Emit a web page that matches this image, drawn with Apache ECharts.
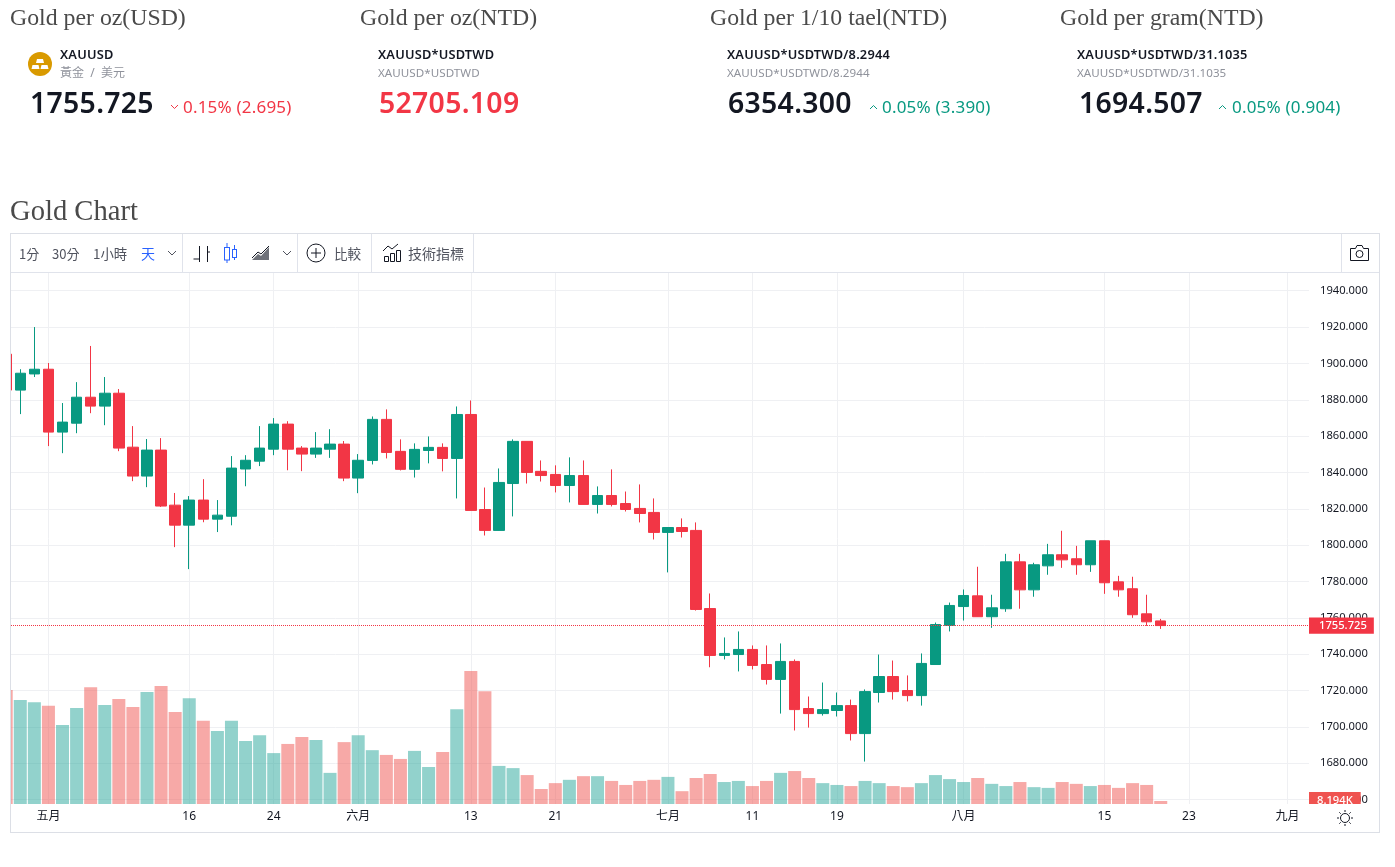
<!DOCTYPE html>
<html><head><meta charset="utf-8">
<script src="https://cdn.jsdelivr.net/npm/echarts@6/dist/echarts.min.js"></script>
<style>
html,body{margin:0;padding:0;background:#fff;overflow:hidden}
#chart{position:absolute;left:0;top:0;width:1395px;height:867px}
.t{position:absolute;white-space:nowrap;line-height:1}
.h{font-family:"Liberation Serif",serif;color:#4a4a4a;font-size:23.8px}
.sym{font-family:"Noto Sans","Noto Sans CJK TC",sans-serif;font-weight:600;font-size:12.8px;letter-spacing:.2px;color:#131722}
.sub{font-family:"Noto Sans","Noto Sans CJK TC",sans-serif;font-size:11.6px;letter-spacing:.05px;color:#8f929b}
.price{font-family:"Noto Sans",sans-serif;font-weight:600;font-size:28.4px;letter-spacing:.3px;color:#131722}
.chg{font-family:"Noto Sans",sans-serif;font-size:17px;letter-spacing:.2px}
.tb{font-family:"Noto Sans CJK TC","Noto Sans",sans-serif;font-size:13px;color:#50535e}
.frame{position:absolute;border:1px solid #dcdfe6;box-sizing:border-box;pointer-events:none}
.sep{position:absolute;top:234px;width:1px;height:38px;background:#e0e3eb}
svg{position:absolute;overflow:visible}
</style></head><body>
<div id="chart"></div>

<div class="t h" style="left:10px;top:6px">Gold per oz(USD)</div>
<div class="t h" style="left:360px;top:6px">Gold per oz(NTD)</div>
<div class="t h" style="left:710px;top:6px">Gold per 1/10 tael(NTD)</div>
<div class="t h" style="left:1060px;top:6px">Gold per gram(NTD)</div>
<div class="t h" style="left:10px;top:197px;font-size:28.6px">Gold Chart</div>

<svg style="left:28px;top:52px" width="24" height="24" viewBox="0 0 24 24"><circle cx="12" cy="12" r="12" fill="#d99a00"/><path d="M9 7h6l1 4H8zM4.5 13h6l1 4h-8zM13.5 13h6l1 4h-8z" fill="#fff"/></svg>
<div class="t sym" style="left:60px;top:48px">XAUUSD</div>
<div class="t sub" style="left:60px;top:67px;word-spacing:3px;font-size:12px">黃金 / 美元</div>
<div class="t price" style="left:30px;top:88px">1755.725</div>
<svg style="left:170px;top:104px" width="9" height="6"><path d="M1 1l3.5 3.5L8 1" fill="none" stroke="#f23645"/></svg>
<div class="t chg" style="left:183px;top:98px;color:#f23645">0.15% (2.695)</div>

<div class="t sym" style="left:378px;top:48px">XAUUSD*USDTWD</div>
<div class="t sub" style="left:378px;top:67px">XAUUSD*USDTWD</div>
<div class="t price" style="left:379px;top:88px;color:#f23645">52705.109</div>

<div class="t sym" style="left:727px;top:48px">XAUUSD*USDTWD/8.2944</div>
<div class="t sub" style="left:727px;top:67px">XAUUSD*USDTWD/8.2944</div>
<div class="t price" style="left:728px;top:88px">6354.300</div>
<svg style="left:869px;top:104px" width="9" height="6"><path d="M1 5l3.5-3.5L8 5" fill="none" stroke="#089981"/></svg>
<div class="t chg" style="left:882px;top:98px;color:#089981">0.05% (3.390)</div>

<div class="t sym" style="left:1077px;top:48px">XAUUSD*USDTWD/31.1035</div>
<div class="t sub" style="left:1077px;top:67px">XAUUSD*USDTWD/31.1035</div>
<div class="t price" style="left:1079px;top:88px">1694.507</div>
<svg style="left:1218px;top:104px" width="9" height="6"><path d="M1 5l3.5-3.5L8 5" fill="none" stroke="#089981"/></svg>
<div class="t chg" style="left:1232px;top:98px;color:#089981">0.05% (0.904)</div>

<div class="frame" style="left:10px;top:233px;width:1370px;height:600px"></div>
<div style="position:absolute;left:11px;top:272px;width:1368px;height:1px;background:#e0e3eb"></div>
<div class="sep" style="left:182px"></div><div class="sep" style="left:297px"></div>
<div class="sep" style="left:371px"></div><div class="sep" style="left:473px"></div><div class="sep" style="left:1341px"></div>
<div class="t tb" style="left:19px;top:247px">1分</div>
<div class="t tb" style="left:52px;top:247px">30分</div>
<div class="t tb" style="left:93px;top:247px;font-size:13.4px">1小時</div>
<div class="t tb" style="left:141px;top:246px;color:#2962ff;font-size:14px">天</div>
<svg style="left:167px;top:250px" width="10" height="6"><path d="M1 1l4 4 4-4" fill="none" stroke="#50535e"/></svg>
<svg style="left:193px;top:245px" width="18" height="18"><path d="M6.5 1v16M0.5 14h6M14.5 1v16M14.5 7h2.5" fill="none" stroke="#131722"/></svg>
<svg style="left:223px;top:243px" width="16" height="20"><g fill="none" stroke="#2962ff"><path d="M4 0v20M11.5 2v15"/><rect x="1.5" y="4.5" width="5" height="12.5" fill="#fff"/><rect x="9.5" y="6.5" width="4" height="8" fill="#fff"/></g></svg>
<svg style="left:251px;top:245px" width="20" height="16"><path d="M1 15L7 9l3 2 8-9v13z" fill="#6f727a"/><path d="M1 13L7 7l3 2 8-8" fill="none" stroke="#131722"/></svg>
<svg style="left:282px;top:250px" width="10" height="6"><path d="M1 1l4 4 4-4" fill="none" stroke="#50535e"/></svg>
<svg style="left:306px;top:243px" width="20" height="20"><circle cx="10" cy="10" r="9" fill="none" stroke="#131722"/><path d="M10 5v10M5 10h10" stroke="#131722"/></svg>
<div class="t tb" style="left:334px;top:247px;font-size:13.6px">比較</div>
<svg style="left:382px;top:243px" width="20" height="20"><path d="M1 8l5-5 4 3 6-5" fill="none" stroke="#131722"/><path d="M2.5 13.5h4v5h-4zM8.5 10.5h4v8h-4zM14.5 7.5h4v11h-4z" fill="none" stroke="#131722"/></svg>
<div class="t tb" style="left:408px;top:246px;font-size:14px">技術指標</div>
<svg style="left:1349px;top:244px" width="21" height="18"><path d="M1.5 4.5h5l1.5-3h5l1.5 3h5v12h-18z" fill="none" stroke="#131722"/><circle cx="10.5" cy="10" r="3.5" fill="none" stroke="#131722"/></svg>
<svg style="left:1337px;top:810px" width="16" height="16"><circle cx="8" cy="8" r="4.5" fill="none" stroke="#131722"/><path d="M8 0v2M8 14v2M0 8h2M14 8h2M2.3 2.3l1.4 1.4M12.3 12.3l1.4 1.4M2.3 13.7l1.4-1.4M12.3 3.7l1.4-1.4" stroke="#131722"/></svg>

<script>
var opens=[1905.1,1885.3,1894.2,1896.8,1862.2,1867.1,1881.4,1876.5,1883.6,1853.9,1838,1852.3,1822,1811,1824.8,1814.3,1815.9,1841.9,1846.2,1852.8,1866.6,1853.4,1850.1,1852.8,1855.6,1836.9,
1846.6,1869.2,1851.6,1841.7,1852.1,1853.8,1847.7,1871.9,1819.6,1808.1,1833.9,1857.1,1840.6,1838.9,1832.8,1838.3,1822.4,1827.3,1822.9,1820.2,1818,1807,1809.7,1808.1,
1765.1,1739.3,1739.8,1742.6,1734.3,1726.1,1736,1710.1,1707.3,1709,1711.7,1696.3,1718.9,1727.7,1720,1717.2,1734.3,1755.8,1766.2,
1772.1,1760.6,1765,1790.8,1775.4,1788.6,1794.7,1792.5,1789.2,1802.4,1779.8,1776,1762.2,1758.3];
var highs=[1906,1896.8,1920,1900.2,1878.2,1889.7,1909.6,1892.5,1885.9,1865.5,1858.4,1858.9,1828.7,1827,1836.3,1824.8,1849,1849.5,1865.5,1869.9,1868.2,1854.5,1862.2,1863.8,1857.3,1850.1,
1870.8,1874.7,1858.2,1856,1859.8,1856,1876.3,1879.6,1831.7,1842.2,1858.2,1857.1,1846.6,1843.9,1848.3,1846.6,1832.3,1841.7,1829.5,1833.4,1825.7,1809.7,1814.7,1812.5,
1773.4,1749.2,1752.5,1744.8,1744.8,1745.9,1737.1,1716.7,1724.4,1718.9,1715,1720.6,1739.8,1736.5,1728.3,1740.4,1757.4,1768.4,1775.6,
1788.1,1772.7,1795.2,1795.2,1790.3,1800.7,1807.9,1799.6,1802.4,1802.4,1783.1,1782.6,1772.7,1759.4];
var lows=[1884,1872.1,1892.5,1854.5,1850.6,1861.6,1872.6,1866,1851.7,1835.2,1831.9,1821,1798.9,1786.8,1812.6,1807.2,1810.9,1832.4,1843.5,1849.5,1841.2,1840.7,1848,1848,1835.2,1828.6,
1844.4,1847.7,1841.1,1837.2,1845,1840.6,1825.7,1819,1805.3,1808,1815.8,1833.9,1835,1829,1823.5,1822.3,1817.4,1821.3,1818.5,1812.5,1803.1,1785,1804.2,1764,
1732.8,1737.1,1730.5,1731.6,1723.3,1707.3,1698,1699.6,1706.2,1705.7,1692.5,1680.9,1713.4,1715,1714,1711.7,1734.3,1752.5,1758.5,
1760.5,1754.5,1763.3,1765,1771.6,1783.7,1787.5,1783.7,1785.3,1773.2,1771.6,1760,1755.6,1753.9];
var closes=[1885.3,1894.6,1896.8,1862.2,1867.7,1881.4,1876.5,1883.6,1853.4,1838,1852.3,1821.5,1811,1824.8,1814.3,1816.5,1842.4,1846.7,1853.4,1866.6,1852.8,1850.1,1853.4,1855.6,1836.9,1846.7,
1869.2,1851,1841.7,1852.7,1853.8,1847.7,1871.9,1819.1,1808.1,1834.5,1857.1,1840,1838.3,1832.8,1838.3,1822.4,1827.3,1822.4,1819.6,1817.4,1807,1809.7,1807.5,1764.6,
1739.3,1740.4,1742.6,1733.8,1726.1,1736,1709.5,1707.3,1709.5,1711.7,1696.3,1719.4,1727.7,1719.4,1717.2,1734.9,1756.3,1766.8,1772.3,
1760.6,1765.5,1790.8,1775.4,1789.2,1794.7,1791.9,1789.2,1802.4,1779.3,1775.4,1761.7,1757.8,1755.725];
var volumes=[311,284,278,268,216,262,319,270,287,265,306,322,251,289,227,199,227,172,188,139,164,183,175,85,169,188,147,134,123,145,101,142,259,363,308,104,98,79,41,57,66,76,76,63,52,63,66,74,35,71,82,60,63,49,63,85,90,71,57,52,49,63,57,49,46,57,79,68,60,71,55,49,60,46,44,60,55,49,52,44,57,52,8.194];
var xTickIndex=[3,13,19,25,33,39,47,53,59,68,78,84,91];
var xTickLabels=['五月','16','24','六月','13','21','七月','11','19','八月','15','23','九月'];
var priceTicks=[1660,1680,1700,1720,1740,1760,1780,1800,1820,1840,1860,1880,1900,1920,1940];
var lastPrice=1755.725, lastVolume=8.194;

var UP='#089981',DOWN='#f23645',VUP='rgba(38,166,154,0.5)',VDOWN='rgba(239,83,80,0.5)';
var FONT='"Noto Sans","Noto Sans CJK TC",sans-serif';
var candleRows=opens.map(function(o,i){return [i,o,closes[i],lows[i],highs[i]];});
var volRows=volumes.map(function(v,i){return {value:[i,v],itemStyle:{color:closes[i]>=opens[i]?VUP:VDOWN}};});
var grid='#eff0f3';
var chart=echarts.init(document.getElementById('chart'),null,{renderer:'canvas'});
chart.setOption({
  animation:false,
  backgroundColor:'#fff',
  grid:{left:11,top:273,width:1298,height:531,containLabel:false},
  xAxis:{type:'value',min:0.341,max:92.53,
    axisLine:{show:false},
    axisTick:{show:false,customValues:xTickIndex},
    splitLine:{show:true,lineStyle:{color:grid,width:1}},
    axisLabel:{customValues:xTickIndex,margin:7,fontSize:12,color:'#131722',fontFamily:FONT,
      hideOverlap:false,
      formatter:function(v){return xTickLabels[xTickIndex.indexOf(v)];}}},
  yAxis:[
    {type:'value',position:'right',min:1657.55,max:1949.75,
      axisLine:{show:false},axisTick:{show:false,customValues:priceTicks},
      splitLine:{show:true,lineStyle:{color:grid,width:1}},
      axisLabel:{customValues:priceTicks,margin:11,fontSize:11.2,color:'#131722',fontFamily:FONT,
        formatter:function(v){return v.toFixed(3);}}},
    {type:'value',position:'right',min:0,max:1450,show:false,splitLine:{show:false}}
  ],
  series:[
    {type:'bar',name:'Volume',xAxisIndex:0,yAxisIndex:1,barWidth:13,data:volRows,z:1,clip:true,
      markLine:{silent:true,symbol:'none',animation:false,
        lineStyle:{color:'rgba(0,0,0,0)',width:1},
        data:[{yAxis:lastVolume}],
        label:{show:true,position:'end',distance:0,formatter:lastVolume+'K',color:'#fff',
          backgroundColor:'#ef5350',fontSize:11.2,fontFamily:FONT,fontWeight:500,padding:[4,8,3,8]}}},
    {type:'candlestick',name:'XAUUSD',xAxisIndex:0,yAxisIndex:0,barWidth:11,clip:true,z:3,
      encode:{x:0,y:[1,2,3,4]},
      data:candleRows,
      itemStyle:{color:UP,color0:DOWN,borderColor:UP,borderColor0:DOWN,borderWidth:1},
      markLine:{silent:true,symbol:'none',animation:false,
        lineStyle:{color:DOWN,type:'dotted',width:1},
        data:[{yAxis:lastPrice}],
        label:{show:true,position:'end',distance:0,formatter:lastPrice.toFixed(3),color:'#fff',
          backgroundColor:DOWN,fontSize:11.2,fontFamily:FONT,fontWeight:500,padding:[3,7,2,10]}}}
  ],
  graphic:[
    {type:'rect',z:1000,zlevel:1,silent:true,shape:{x:1300,y:804,width:78,height:6},style:{fill:'#fff'}},
    {type:'rect',z:1000,zlevel:1,silent:true,shape:{x:0,y:273,width:11,height:531},style:{fill:'#fff'}}
  ]
});
</script>
</body></html>
